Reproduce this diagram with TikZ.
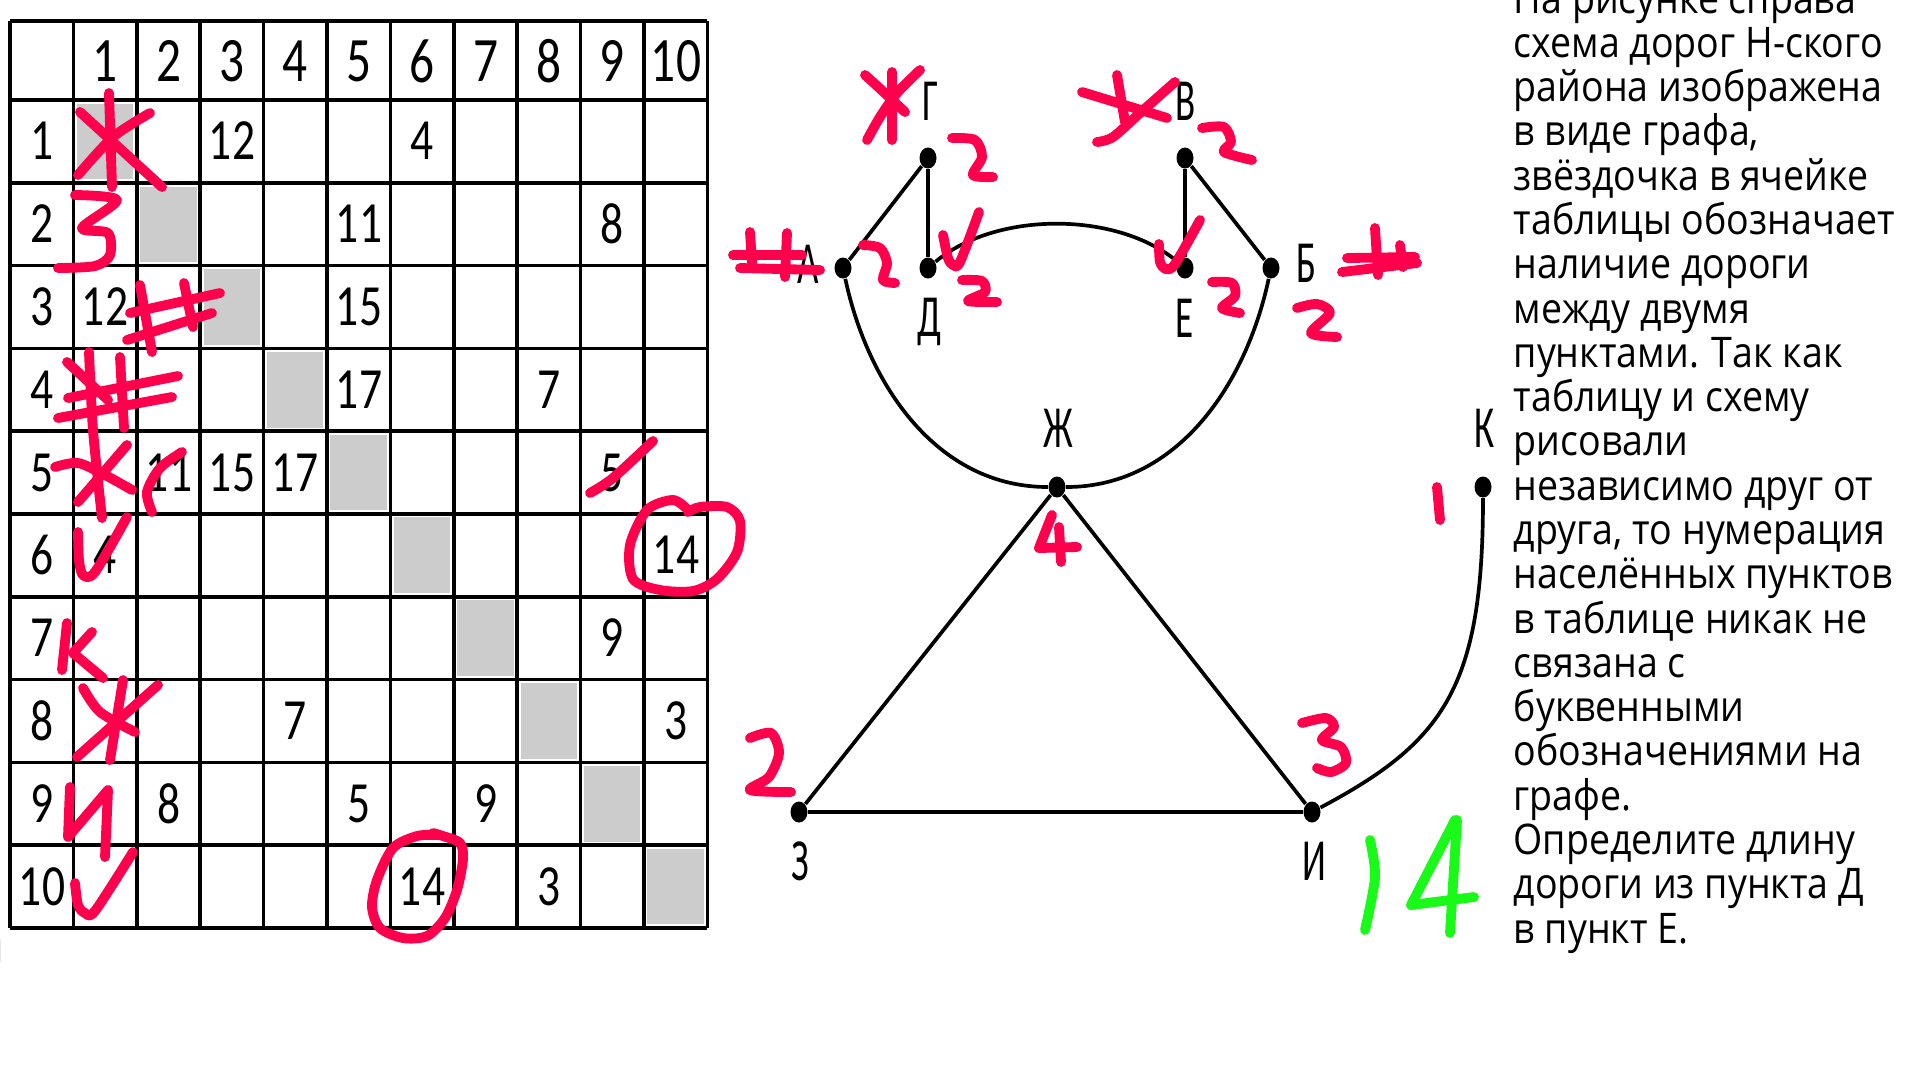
\documentclass[tikz,border=0pt]{standalone}
\usepackage{fontspec}
\usetikzlibrary{shapes.geometric}
\newfontfamily\numfont[FakeStretch=0.78]{Carlito}
\newfontfamily\letterfont[FakeStretch=0.62]{Carlito}
\newfontfamily\taskfont[FakeStretch=0.89]{Open Sans}
\definecolor{penred}{RGB}{255,0,77}
\definecolor{pengreen}{RGB}{25,250,25}
\definecolor{cellgray}{RGB}{204,204,204}
\begin{document}
\begin{tikzpicture}[x=0.1mm,y=-0.1mm,
    gridline/.style={line width=1.05pt},
    head/.style={inner sep=0pt,font=\numfont\fontsize{18}{18}\selectfont},
    cell/.style={inner sep=0pt,font=\numfont\fontsize{16.6}{16.6}\selectfont},
    dot/.style={ellipse,fill=black,inner sep=0pt,minimum width=1.7mm,minimum height=2.1mm},
    lbl/.style={anchor=base,inner sep=0pt,font=\letterfont\fontsize{17}{17}\selectfont},
    road/.style={line width=1.05pt},
    pen/.style={draw=penred,line width=2.8pt,line cap=round,line join=round},
    greenpen/.style={draw=pengreen,line width=2.8pt,line cap=round,line join=round}]
  \useasboundingbox[fill=white] (0,0) rectangle (1920,1080);

  % table: diagonal cells
  \fill[cellgray] (77,104) rectangle (133,179);
  \fill[cellgray] (140,187) rectangle (197,262);
  \fill[cellgray] (204,269) rectangle (260,345);
  \fill[cellgray] (267,352) rectangle (323,428);
  \fill[cellgray] (330,435) rectangle (387,510);
  \fill[cellgray] (394,517) rectangle (450,593);
  \fill[cellgray] (457,600) rectangle (514,676);
  \fill[cellgray] (521,683) rectangle (577,759);
  \fill[cellgray] (584,766) rectangle (640,842);
  \fill[cellgray] (647,849) rectangle (704,924);

  % table: lines
  \draw[gridline]
    (10,21) -- (10,928) (73.4,21) -- (73.4,928) (136.8,21) -- (136.8,928)
    (200.2,21) -- (200.2,928) (263.6,21) -- (263.6,928) (327,21) -- (327,928)
    (390.4,21) -- (390.4,928) (453.8,21) -- (453.8,928) (517.2,21) -- (517.2,928)
    (580.6,21) -- (580.6,928) (644,21) -- (644,928) (707.4,21) -- (707.4,928);
  \draw[gridline]
    (10,21) -- (707.4,21) (10,100) -- (707.4,100) (10,182.8) -- (707.4,182.8)
    (10,265.6) -- (707.4,265.6) (10,348.4) -- (707.4,348.4) (10,431.2) -- (707.4,431.2)
    (10,514) -- (707.4,514) (10,596.8) -- (707.4,596.8) (10,679.6) -- (707.4,679.6)
    (10,762.4) -- (707.4,762.4) (10,845.2) -- (707.4,845.2) (10,928) -- (707.4,928);

  % table: header row and column
  \path
    (105,61) node[head] (h1){1}
    (169,61) node[head] (h2){2}
    (232,61) node[head] (h3){3}
    (295,61) node[head] (h4){4}
    (359,61) node[head] (h5){5}
    (422,61) node[head] (h6){6}
    (486,61) node[head] (h7){7}
    (549,61) node[head] (h8){8}
    (612,61) node[head] (h9){9}
    (676,61) node[head] (h10){10};
  \path
    (42,141) node[cell] (r1){1}
    (42,224) node[cell] (r2){2}
    (42,307) node[cell] (r3){3}
    (42,390) node[cell] (r4){4}
    (42,473) node[cell] (r5){5}
    (42,555) node[cell] (r6){6}
    (42,638) node[cell] (r7){7}
    (42,721) node[cell] (r8){8}
    (42,804) node[cell] (r9){9}
    (42,887) node[cell] (r10){10};

  % table: road lengths
  \path
    (232,141) node[cell] (c1-3){12}
    (422,141) node[cell] (c1-6){4}
    (359,224) node[cell] (c2-5){11}
    (612,224) node[cell] (c2-9){8}
    (105,307) node[cell] (c3-1){12}
    (359,307) node[cell] (c3-5){15}
    (359,390) node[cell] (c4-5){17}
    (549,390) node[cell] (c4-8){7}
    (169,473) node[cell] (c5-2){11}
    (232,473) node[cell] (c5-3){15}
    (295,473) node[cell] (c5-4){17}
    (612,473) node[cell] (c5-9){5}
    (105,555) node[cell] (c6-1){4}
    (676,555) node[cell] (c6-10){14}
    (612,638) node[cell] (c7-9){9}
    (295,721) node[cell] (c8-4){7}
    (676,721) node[cell] (c8-10){3}
    (169,804) node[cell] (c9-2){8}
    (359,804) node[cell] (c9-5){5}
    (486,804) node[cell] (c9-7){9}
    (422,887) node[cell] (c10-6){14}
    (549,887) node[cell] (c10-8){3};

  % graph: points
  \path
    (843,268) node[dot] (A){}
    (928,158) node[dot] (G){}
    (928,268) node[dot] (D){}
    (1185,158) node[dot] (V){}
    (1185,268) node[dot] (E){}
    (1271,268) node[dot] (B){}
    (1057,487) node[dot] (Zh){}
    (799,812) node[dot] (Z){}
    (1312,812) node[dot] (I){}
    (1483,487) node[dot] (K){};
  \path
    (808,283) node[lbl] (lA){А}
    (930,120) node[lbl] (lG){Г}
    (929,336) node[lbl] (lD){Д}
    (1186,120) node[lbl] (lV){В}
    (1185,337) node[lbl] (lE){Е}
    (1306,282) node[lbl] (lB){Б}
    (1058,447) node[lbl] (lZh){Ж}
    (1485,447) node[lbl] (lK){К}
    (800,880) node[lbl] (lZ){З}
    (1314,880) node[lbl] (lI){И};

  % graph: roads
  \begin{scope}[road]
    \draw (A) -- (G);
    \draw (G) -- (D);
    \draw (D) .. controls (996,211) and (1117,211) .. (E);
    \draw (V) -- (E);
    \draw (V) -- (B);
    \draw (A) .. controls (868,385) and (937,487) .. (Zh);
    \draw (B) .. controls (1246,385) and (1177,487) .. (Zh);
    \draw (Zh) -- (Z);
    \draw (Zh) -- (I);
    \draw (Z) -- (I);
    \draw (I) .. controls (1444,742) and (1483,687) .. (K);
  \end{scope}

  % task text (base = last line)
  \node[anchor=base west,align=left,inner sep=0pt,
        font=\taskfont\fontsize{12}{12.6}\selectfont] (task) at (1513,943)
    {На рисунке справа\\схема дорог Н-ского\\района изображена\\в виде графа,\\
     звёздочка в ячейке\\таблицы обозначает\\наличие дороги\\между двумя\\
     пунктами. Так как\\таблицу и схему\\рисовали\\независимо друг от\\
     друга, то нумерация\\населённых пунктов\\в таблице никак не\\связана с\\
     буквенными\\обозначениями на\\графе.\\Определите длину\\
     дороги из пункта Д\\в пункт Е.};
  \node[anchor=base east,inner sep=0pt,
        font=\taskfont\fontsize{12}{12.6}\selectfont] (frag) at (5,962) {п};

  % pen marks in the table
  \draw[pen] (109,93) -- (112,187);
  \draw[pen] (80,112) -- (162,187);
  \draw[pen] plot[smooth] coordinates {(150,113) (113,137) (78,175)};
  \draw[pen] plot[smooth] coordinates {(75,195) (117,200) (82,228) (108,233) (110,255) (95,266) (58,268)};
  \draw[pen] (140,285) -- (152,352);
  \draw[pen] (184,283) -- (193,327);
  \draw[pen] (130,313) -- (220,293);
  \draw[pen] (127,340) -- (212,313);
  \draw[pen] plot[smooth] coordinates {(89,352) (93,430) (102,518)};
  \draw[pen] (120,357) -- (124,428);
  \draw[pen] (68,398) -- (178,376);
  \draw[pen] (58,418) -- (172,397);
  \draw[pen] (67,362) -- (108,400);
  \draw[pen] plot[smooth] coordinates {(55,467) (78,463) (105,475) (132,490)};
  \draw[pen] (127,445) -- (78,502);
  \draw[pen] plot[smooth] coordinates {(182,452) (160,468) (147,492) (152,512)};
  \draw[pen] plot[smooth] coordinates {(78,532) (79,560) (83,575) (95,572) (127,517)};
  \draw[pen] (67,623) -- (62,670);
  \draw[pen] (92,632) -- (73,653) -- (103,678);
  \draw[pen] (123,680) -- (110,760);
  \draw[pen] (158,685) -- (77,757);
  \draw[pen] plot[smooth] coordinates {(83,688) (100,712) (135,732)};
  \draw[pen] (70,787) -- (68,837) -- (108,790) -- (105,857);
  \draw[pen] plot[smooth] coordinates {(75,883) (78,905) (85,913) (95,911) (133,852)};
  \draw[pen] plot[smooth] coordinates {(590,493) (613,478) (653,441)};
  \draw[pen] plot[smooth] coordinates {(688,510) (673,500) (647,510) (630,545) (633,579) (660,590)
    (693,591) (717,579) (737,552) (740,521) (727,507) (700,507) (688,512)};
  \draw[pen] plot[smooth] coordinates {(438,835) (417,836) (393,848) (377,880) (372,907) (380,928)
    (403,938) (427,936) (445,918) (457,890) (463,859) (460,843) (443,836) (433,833)};

  % pen marks on the graph
  \draw[pen] (750,232) -- (752,263);
  \draw[pen] (787,233) -- (785,277);
  \draw[pen] (733,255) -- (802,255);
  \draw[pen] (740,268) -- (820,270);
  \draw[pen] plot[smooth] coordinates {(863,245) (880,248) (887,263) (883,280) (895,283)};
  \draw[pen] (892,72) -- (892,140);
  \draw[pen] plot[smooth] coordinates {(920,70) (897,93) (880,117) (867,140)};
  \draw[pen] plot[smooth] coordinates {(865,75) (875,84) (905,112)};
  \draw[pen] plot[smooth] coordinates {(952,138) (975,140) (982,157) (973,175) (993,177)};
  \draw[pen] plot[smooth] coordinates {(943,235) (948,258) (953,265) (960,262) (979,212)};
  \draw[pen] plot[smooth] coordinates {(962,280) (982,281) (985,292) (968,301) (997,302)};
  \draw[pen] (1082,92) -- (1167,118);
  \draw[pen] (1117,75) -- (1125,122);
  \draw[pen] plot[smooth] coordinates {(1175,82) (1140,113) (1113,137) (1097,142)};
  \draw[pen] plot[smooth] coordinates {(1202,128) (1224,127) (1231,142) (1224,152) (1252,160)};
  \draw[pen] plot[smooth] coordinates {(1159,244) (1160,262) (1166,269) (1175,264) (1200,220)};
  \draw[pen] plot[smooth] coordinates {(1212,282) (1232,283) (1235,296) (1222,308) (1240,313)};
  \draw[pen] (1375,228) -- (1378,275);
  \draw[pen] (1400,245) -- (1403,267);
  \draw[pen] (1347,258) -- (1415,257);
  \draw[pen] (1342,272) -- (1417,263);
  \draw[pen] plot[smooth] coordinates {(1297,308) (1317,304) (1330,313) (1311,333) (1337,337)};
  \draw[pen] (1437,487) -- (1440,520);
  \draw[pen] (1052,515) -- (1039,548) -- (1077,547);
  \draw[pen] (1059,527) -- (1061,562);
  \draw[pen] plot[smooth] coordinates {(750,738) (771,733) (779,753) (769,777) (750,790) (791,792)};
  \draw[pen] plot[smooth] coordinates {(1302,723) (1326,718) (1334,727) (1322,740) (1341,747)
    (1346,763) (1331,772) (1317,768)};
  \draw[greenpen] plot[smooth] coordinates {(1370,840) (1375,877) (1365,930)};
  \draw[greenpen] (1455,820) -- (1411,905) -- (1474,897);
  \draw[greenpen] (1457,820) -- (1450,933);
\end{tikzpicture}
\end{document}
